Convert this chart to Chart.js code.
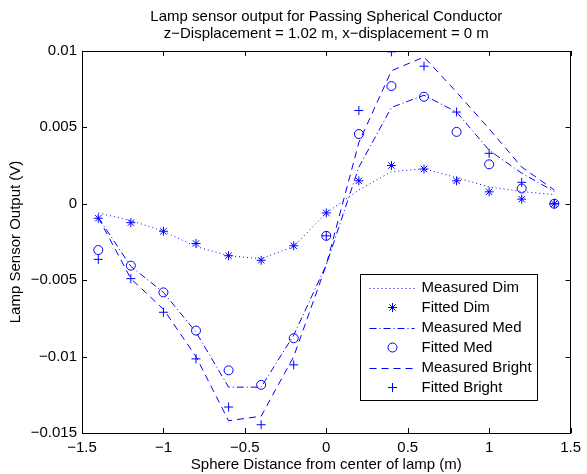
<!DOCTYPE html>
<html><head><meta charset="utf-8">
<script src="https://cdn.jsdelivr.net/npm/chart.js@4.4.0/dist/chart.umd.min.js"></script>
<style>html,body{margin:0;padding:0;background:#fff}#wrap{width:587px;height:474px;position:relative}</style>
</head><body><div id="wrap"><canvas id="c" width="587" height="474"></canvas></div>
<script>
// ---- data ----
const xPositions = [-1.4,-1.2,-1.0,-0.8,-0.6,-0.4,-0.2,0,0.2,0.4,0.6,0.8,1.0,1.2,1.4];
const measuredDim    = [-0.0006,-0.0011,-0.0018,-0.0028,-0.0034,-0.0036,-0.0028,-0.0006,0.0009,0.0021,0.0023,0.0017,0.0011,0.0008,0.0006];
const fittedDim      = [-0.00095,-0.00124,-0.0018,-0.0026,-0.0034,-0.0037,-0.00275,-0.0006,0.0015,0.0025,0.00227,0.0015,0.00078,0.0003,0.0];
const measuredMed    = [-0.0009,-0.0041,-0.0058,-0.0084,-0.0120,-0.0120,-0.0086,-0.0040,0.0024,0.0063,0.0071,0.0060,0.0035,0.0020,0.0008];
const fittedMed      = [-0.00303,-0.00405,-0.0058,-0.0083,-0.0109,-0.01185,-0.0088,-0.0021,0.00456,0.0077,0.0070,0.0047,0.00258,0.0010,0.0];
const measuredBright = [-0.0009,-0.0049,-0.0069,-0.0100,-0.0142,-0.0139,-0.0100,-0.0040,0.0040,0.0087,0.0096,0.0073,0.0049,0.0024,0.0009];
const fittedBright   = [-0.00364,-0.0049,-0.0071,-0.01015,-0.0133,-0.01446,-0.01054,-0.0021,0.0061,0.00994,0.0090,0.0060,0.0033,0.0014,0.0];
const seriesNames = ['Measured Dim','Fitted Dim','Measured Med','Fitted Med','Measured Bright','Fitted Bright'];
const xTicks = [-1.5,-1,-0.5,0,0.5,1,1.5];
const yTicks = [-0.015,-0.01,-0.005,0,0.005,0.01];
const titleLines = ['Lamp sensor output for Passing Spherical Conductor','z\u2212Displacement = 1.02 m, x\u2212displacement = 0 m'];
const xTitle = 'Sphere Distance from center of lamp (m)';
const yTitle = 'Lamp Sensor Output (V)';

const BLUE = '#0000ff';
const FONT = "'Liberation Sans', Arial, Helvetica, sans-serif";
const FS = 15;
const pts = arr => arr.map((y,i)=>({x:xPositions[i], y}));
const fmt = v => { const s = String(Number(Number(v).toFixed(5))); return s.replace('-', '\u2212'); };

Chart.defaults.font.family = FONT;
Chart.defaults.font.size = FS;
Chart.defaults.color = '#000';

const lineDs = (label, arr, dash) => ({label, data: pts(arr), showLine:true, borderColor:BLUE, borderWidth:1, borderDash:dash, pointRadius:0, fill:false, tension:0});
const markDs = (label, arr, style) => ({label, data: pts(arr), showLine:false, pointStyle:style, pointRadius:4.5, pointBorderColor:BLUE, pointBackgroundColor:'rgba(0,0,0,0)', pointBorderWidth:1, borderColor:BLUE, backgroundColor:'rgba(0,0,0,0)'});

const datasets = [
  lineDs(seriesNames[0], measuredDim, [1,3]),
  markDs(seriesNames[1], fittedDim, 'star'),
  lineDs(seriesNames[2], measuredMed, [7,3,1,3]),
  markDs(seriesNames[3], fittedMed, 'circle'),
  lineDs(seriesNames[4], measuredBright, [7,5]),
  markDs(seriesNames[5], fittedBright, 'cross'),
];

const frame = {
  id:'frame',
  afterDraw(chart){
    const ctx = chart.ctx, ca = chart.chartArea;
    const xs = chart.scales.x, ys = chart.scales.y;
    ctx.save();
    ctx.strokeStyle = '#000'; ctx.lineWidth = 1; ctx.setLineDash([]);
    ctx.strokeRect(Math.round(ca.left)+0.5, Math.round(ca.top)+0.5, Math.round(ca.right-ca.left)-1, Math.round(ca.bottom-ca.top));
    const tl = 5;
    ctx.beginPath();
    xTicks.forEach(v=>{ const px = Math.round(xs.getPixelForValue(v))+0.5;
      ctx.moveTo(px, ca.bottom); ctx.lineTo(px, ca.bottom-tl);
      ctx.moveTo(px, ca.top); ctx.lineTo(px, ca.top+tl); });
    yTicks.forEach(v=>{ const py = Math.round(ys.getPixelForValue(v))+0.5;
      ctx.moveTo(ca.left, py); ctx.lineTo(ca.left+tl, py);
      ctx.moveTo(ca.right, py); ctx.lineTo(ca.right-tl, py); });
    ctx.stroke();

    // legend box (MATLAB style, inside axes)
    const L = {x: Math.round(ca.right)-211+0.5, y: Math.round(ca.top)+223+0.5, w:177, h:126};
    ctx.fillStyle = '#fff';
    ctx.fillRect(L.x, L.y, L.w, L.h);
    ctx.strokeStyle = '#000';
    ctx.strokeRect(L.x, L.y, L.w, L.h);
    ctx.font = FS + 'px ' + FONT;
    ctx.textBaseline = 'middle'; ctx.textAlign = 'left';
    chart.data.datasets.forEach((ds,i)=>{
      const cy = L.y + 13 + i*20;
      if (ds.showLine) {
        ctx.save();
        ctx.strokeStyle = BLUE; ctx.lineWidth = 1; ctx.setLineDash(ds.borderDash||[]);
        ctx.beginPath(); ctx.moveTo(L.x+9, Math.round(cy)+0.5); ctx.lineTo(L.x+54, Math.round(cy)+0.5); ctx.stroke();
        ctx.restore();
      } else {
        ctx.save();
        ctx.strokeStyle = BLUE; ctx.fillStyle = 'rgba(0,0,0,0)'; ctx.lineWidth = 1;
        Chart.helpers.drawPoint(ctx, {pointStyle: ds.pointStyle, radius: ds.pointRadius, rotation:0, borderWidth:1}, L.x+32, cy);
        ctx.restore();
      }
      ctx.fillStyle = '#000';
      ctx.fillText(ds.label, L.x+61, cy+0.5);
    });
    ctx.restore();
  }
};

new Chart(document.getElementById('c'), {
  type:'scatter',
  data:{datasets},
  options:{
    responsive:false, animation:false, devicePixelRatio:1,
    layout:{padding:{left:0,right:10,top:0,bottom:0}},
    plugins:{
      legend:{display:false}, tooltip:{enabled:false},
      title:{display:true, text:titleLines, fullSize:false, color:'#000',
        font:{size:FS, weight:'normal', lineHeight:1.13, family:FONT}, padding:{top:8,bottom:9}}
    },
    scales:{
      x:{type:'linear', min:-1.5, max:1.5,
        afterBuildTicks: s => { s.ticks = xTicks.map(v=>({value:v})); },
        afterFit: s => { s.height = 41; },
        ticks:{callback: v => fmt(v), padding:6, maxRotation:0, autoSkip:false, color:'#000'},
        grid:{display:false, drawTicks:false}, border:{display:false},
        title:{display:true, text:xTitle, color:'#000', font:{size:FS, lineHeight:1.2}, padding:{top:0,bottom:0}}},
      y:{type:'linear', min:-0.015, max:0.01,
        afterBuildTicks: s => { s.ticks = yTicks.map(v=>({value:v})); },
        afterFit: s => { s.width = 82; },
        ticks:{callback: v => fmt(v), padding:5, autoSkip:false, color:'#000'},
        grid:{display:false, drawTicks:false}, border:{display:false},
        title:{display:true, text:yTitle, color:'#000', font:{size:FS, lineHeight:1.2}, padding:{top:7,bottom:0}}}
    }
  },
  plugins:[frame]
});
</script></body></html>
